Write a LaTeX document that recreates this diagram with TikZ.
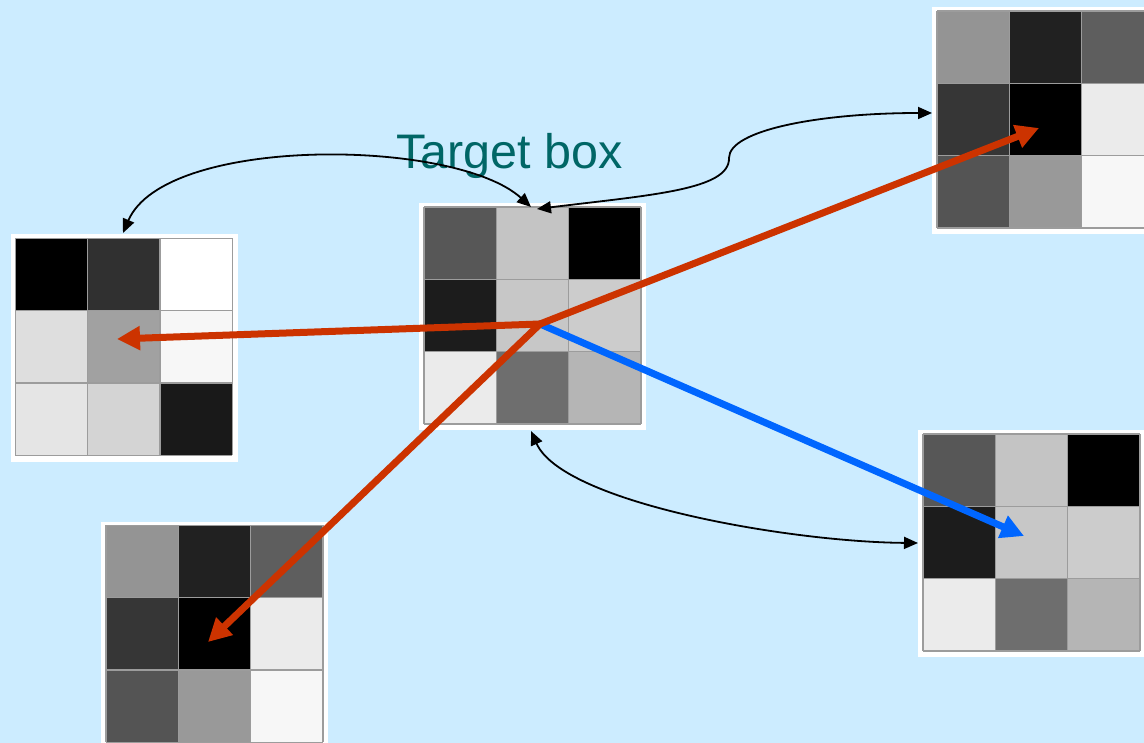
\documentclass[tikz,border=0pt]{standalone}
\usepackage{fontspec}
\setmainfont{Liberation Sans}
\usetikzlibrary{arrows.meta}
\definecolor{slidebg}{HTML}{CCECFF}
\definecolor{gridline}{HTML}{9C9C9C}
\definecolor{vecred}{HTML}{CC3300}
\definecolor{vecblue}{HTML}{0066FF}
\definecolor{labelteal}{HTML}{006666}
\tikzset{
  frame/.style={fill=white, inner sep=0pt, minimum width=227pt, minimum height=227pt, anchor=north west},
  cell/.style={draw=gridline, line width=1.3pt},
  vec/.style={line width=7pt, line cap=round, -{Triangle[length=23pt,width=23pt]}},
  link/.style={line width=1.8pt, black, {Triangle[length=14pt,width=12pt]}-{Triangle[length=14pt,width=12pt]}},
}
% #1 name, #2/#3 top-left corner of the 3x3 block, #4 nine grey levels (percent white)
\newcommand\pixgrid[4]{%
  \node[frame] (#1) at (#2-5,#3-4) {};
  \foreach \g [count=\i from 0] in {#4} {
    \pgfmathtruncatemacro\gc{mod(\i,3)}
    \pgfmathtruncatemacro\gr{\i/3}
    \fill[white!\g!black] (#2+\gc*72.3,#3+\gr*72.3) rectangle ++(72.3,72.3);
  }
  \foreach \k in {0,...,3} {
    \draw[cell] (#2+\k*72.3,#3) -- ++(0,216.9);
    \draw[cell] (#2,#3+\k*72.3) -- ++(216.9,0);
  }
}
\begin{document}
\begin{tikzpicture}[x=1pt,y=-1pt]
\fill[slidebg] (0,0) rectangle (1144,743);
\useasboundingbox (0,0) rectangle (1144,743);
\clip (0,0) rectangle (1144,743);

% pixel blocks
\pixgrid{gcentre}{424}{207}{34,77,0,11,78,80,92,43,71}
\pixgrid{gleft}{15.3}{238.3}{0,19,100,87,63,97,90,83,10}
\pixgrid{gtopright}{937}{11}{58,13,37,21,0,92,33,60,97}
\pixgrid{gbotright}{923}{434}{34,77,0,11,78,80,92,43,71}
\pixgrid{gbotleft}{106}{525.3}{58,13,37,21,0,92,33,60,97}

% caption
\node[anchor=base west, text=labelteal, font=\fontsize{48.5}{58}\selectfont, inner sep=0pt] (label) at (396,169) {Target box};

% comparison links
\coordinate (lA) at (123,233);
\coordinate (cA) at (531,207);
\coordinate (cB) at (537,209);
\coordinate (bend) at (729,158);
\coordinate (trA) at (932,113);
\coordinate (cC) at (531,431);
\coordinate (brA) at (918,543);
\draw[link] (lA) .. controls (165,135) and (455,138) .. (cA);
\draw[link] (cB) .. controls (650,195) and (730,190) .. (bend) .. controls (729,130) and (820,113) .. (trA);
\draw[link] (cC) .. controls (563,503) and (790,542) .. (brA);

% motion vectors
\coordinate (hub) at (540,324);
\coordinate (tipL) at (117,339);
\coordinate (tipTR) at (1039,128);
\coordinate (tipBL) at (208,642);
\coordinate (tipBR) at (1024,536);
\draw[vec, vecblue] (hub) -- (tipBR);
\draw[vec, vecred] (hub) -- (tipL);
\draw[vec, vecred] (hub) -- (tipTR);
\draw[vec, vecred] (hub) -- (tipBL);
\end{tikzpicture}
\end{document}
